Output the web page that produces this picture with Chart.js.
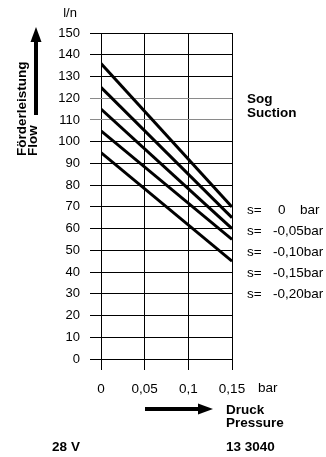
<!DOCTYPE html>
<html>
<head>
<meta charset="utf-8">
<script src="https://cdn.jsdelivr.net/npm/chart.js@4"></script>
<style>
  html, body { margin: 0; padding: 0; background: #fff; }
  #wrap { width: 326px; height: 457px; position: relative; }
</style>
</head>
<body>
<div id="wrap"><canvas id="pumpChart"></canvas></div>
<script>
// -----------------------------------------
// DATA
// -----------------------------------------
const pressure   = [0, 0.15];                 // bar
const suction    = ['0', '-0,05', '-0,10', '-0,15', '-0,20'];
const flowS000   = [136, 70];
const flowS005   = [125, 65];
const flowS010   = [115, 60];
const flowS015   = [105, 55];
const flowS020   = [95, 45];
const flowSeries = [flowS000, flowS005, flowS010, flowS015, flowS020];
const xTicks     = ['0', '0,05', '0,1', '0,15'];

const FONT = "'Liberation Sans', Arial, sans-serif";

// -----------------------------------------
// Helpers for annotations
// -----------------------------------------
function arrow(ctx, x1, y1, x2, y2) {
  const ang = Math.atan2(y2 - y1, x2 - x1);
  const headLen = 15, headW = 5.5;
  const bx = x2 - headLen * Math.cos(ang), by = y2 - headLen * Math.sin(ang);
  ctx.save();
  ctx.strokeStyle = '#000';
  ctx.fillStyle = '#000';
  ctx.lineWidth = 4;
  ctx.beginPath();
  ctx.moveTo(x1, y1);
  ctx.lineTo(bx, by);
  ctx.stroke();
  ctx.beginPath();
  ctx.moveTo(x2, y2);
  ctx.lineTo(bx + headW * Math.sin(ang), by - headW * Math.cos(ang));
  ctx.lineTo(bx - headW * Math.sin(ang), by + headW * Math.cos(ang));
  ctx.closePath();
  ctx.fill();
  ctx.restore();
}

const annotations = {
  id: 'annotations',
  afterDraw(chart) {
    const ctx = chart.ctx;
    ctx.save();
    ctx.fillStyle = '#000';
    ctx.textBaseline = 'middle';

    // unit on top of y axis
    ctx.font = '13px ' + FONT;
    ctx.textAlign = 'center';
    ctx.fillText('l/n', 70, 13);

    // y axis title + arrow
    arrow(ctx, 36, 115, 36, 27);
    ctx.font = 'bold 13.5px ' + FONT;
    ctx.textAlign = 'left';
    ctx.save();
    ctx.translate(22, 156);
    ctx.rotate(-Math.PI / 2);
    ctx.fillText('Förderleistung', 0, 0);
    ctx.restore();
    ctx.save();
    ctx.translate(33, 156);
    ctx.rotate(-Math.PI / 2);
    ctx.fillText('Flow', 0, 0);
    ctx.restore();

    // suction heading
    ctx.fillText('Sog', 247, 99);
    ctx.fillText('Suction', 247, 113);

    // suction legend
    ctx.font = '13.5px ' + FONT;
    suction.forEach((s, i) => {
      const y = 210 + i * 21;
      ctx.textAlign = 'left';
      ctx.fillText('s=', 247, y);
      if (s === '0') {
        ctx.fillText('0', 278, y);
        ctx.fillText('bar', 300, y);
      } else {
        ctx.fillText(s + 'bar', 273, y);
      }
    });

    // x axis unit
    ctx.textAlign = 'left';
    ctx.font = '13.5px ' + FONT;
    ctx.fillText('bar', 258, 388);

    // x axis title + arrow
    arrow(ctx, 145, 409, 213, 409);
    ctx.font = 'bold 13.5px ' + FONT;
    ctx.fillText('Druck', 226, 410);
    ctx.fillText('Pressure', 226, 423);

    // footer
    ctx.textAlign = 'center';
    ctx.fillText('28 V', 66, 447);
    ctx.textAlign = 'left';
    ctx.fillText('13 3040', 226, 447);

    ctx.restore();
  }
};

// -----------------------------------------
// CHART
// -----------------------------------------
new Chart(document.getElementById('pumpChart'), {
  type: 'line',
  data: {
    datasets: flowSeries.map((flow, i) => ({
      label: 's= ' + suction[i] + ' bar',
      data: pressure.map((p, j) => ({ x: p, y: flow[j] })),
      borderColor: '#000',
      borderWidth: 3,
      pointRadius: 0,
      fill: false,
      tension: 0
    }))
  },
  options: {
    responsive: true,
    maintainAspectRatio: false,
    animation: false,
    layout: { padding: { left: 0, right: 94, top: 33, bottom: 0 } },
    plugins: {
      legend: { display: false },
      tooltip: { enabled: false }
    },
    scales: {
      x: {
        type: 'linear',
        min: 0,
        max: 0.15,
        afterFit: s => { s.height = 98; },
        afterBuildTicks: s => { s.ticks = [0, 0.05, 0.1, 0.15].map(v => ({ value: v })); },
        border: { display: false },
        grid: { color: '#000', lineWidth: 1, tickLength: 11, drawOnChartArea: true },
        ticks: {
          padding: 11,
          maxRotation: 0,
          color: '#000',
          font: { family: FONT, size: 13.5 },
          callback: (v, i) => xTicks[i]
        }
      },
      y: {
        min: 0,
        max: 150,
        afterFit: s => { s.width = 101; },
        border: { display: false },
        grid: {
          color: c => (c.tick && (c.tick.value === 110 || c.tick.value === 120)) ? '#8a8a8a' : '#000',
          lineWidth: 1,
          tickLength: 11
        },
        ticks: {
          stepSize: 10,
          padding: 10,
          color: '#000',
          font: { family: FONT, size: 13 }
        }
      }
    }
  },
  plugins: [annotations]
});
</script>
</body>
</html>
